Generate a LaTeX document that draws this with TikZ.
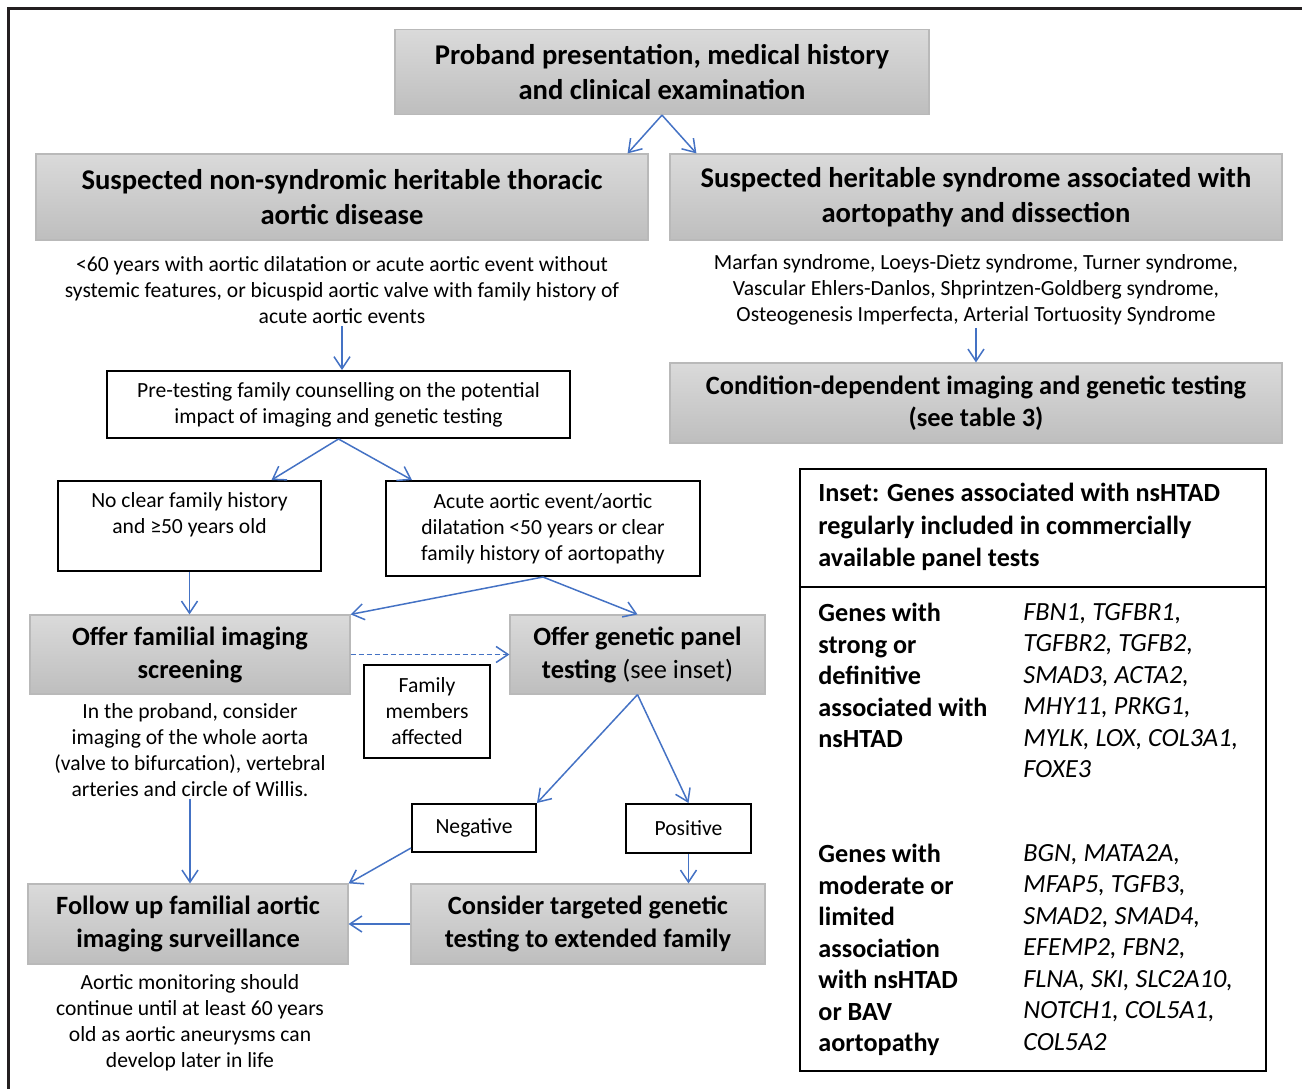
\documentclass[tikz,border=0pt]{standalone}
\usepackage{fontspec}
\setmainfont{Carlito}
\usetikzlibrary{arrows.meta}
\definecolor{arrowblue}{RGB}{68,114,196}
\definecolor{boxtop}{RGB}{218,218,218}
\definecolor{boxbottom}{RGB}{190,190,190}
\definecolor{boxline}{RGB}{185,185,185}
\definecolor{framegray}{RGB}{35,31,32}

\begin{document}
\begin{tikzpicture}[x=0.5pt,y=-0.5pt]
\tikzset{graybox/.style = {rectangle, draw=boxline, line width=.6pt, top color=boxtop, bottom color=boxbottom, align=center, inner sep=2pt, font={\fontsize{13.2}{16.5}\selectfont\bfseries}}}
\tikzset{bigfont/.style = {font={\fontsize{14.3}{17.5}\selectfont\bfseries}}}
\tikzset{plainbox/.style = {rectangle, draw=black, line width=1pt, fill=white, align=center, inner sep=2pt, font={\fontsize{10.8}{13}\selectfont}}}
\tikzset{note/.style = {align=center, inner sep=1pt, font={\fontsize{10.8}{13}\selectfont}}}
\tikzset{genes/.style = {anchor=north west, align=left, inner sep=0pt}}
\tikzset{edge/.style = {-{Straight Barb[length=6pt,width=8pt]}, color=arrowblue, line width=.75pt}}

\useasboundingbox (0,0) rectangle (1302,1088);
\draw[framegray, line width=1.5pt] (8.5,1100) -- (8.5,8.5) -- (1310,8.5);

% top of the chart
\node[graybox, bigfont, minimum width=267pt, minimum height=42.5pt] (proband) at (662,72) {Proband presentation, medical history\\and clinical examination};
\node[graybox, bigfont, minimum width=306pt, minimum height=43pt] (nonsyn) at (342,197) {Suspected non-syndromic heritable thoracic\\aortic disease};
\node[graybox, bigfont, minimum width=306pt, minimum height=43pt] (syn) at (976,197) {Suspected heritable syndrome associated with\\aortopathy and dissection};

\node[note] (nonsyntext) at (342,290) {<60 years with aortic dilatation or acute aortic event without\\systemic features, or bicuspid aortic valve with family history of\\acute aortic events};
\node[note] (syntext) at (976,290) {Marfan syndrome, Loeys-Dietz syndrome, Turner syndrome,\\Vascular Ehlers-Danlos, Shprintzen-Goldberg syndrome,\\Osteogenesis Imperfecta, Arterial Tortuosity Syndrome};
\node[graybox, minimum width=306pt, minimum height=40pt, font={\fontsize{13.2}{16}\selectfont\bfseries}] (cond) at (976,403) {Condition-dependent imaging and genetic testing\\(see table 3)};

% left branch
\node[plainbox, minimum width=231.5pt, minimum height=33.5pt] (counsel) at (338.5,404.5) {Pre-testing family counselling on the potential\\impact of imaging and genetic testing};
\node[plainbox, minimum width=131.5pt, minimum height=45pt] (nofam) at (189.5,526) {No clear family history\\and ≥50 years old\\\mbox{}};
\node[plainbox, minimum width=157pt, minimum height=47.5pt] (acute) at (543,528.5) {Acute aortic event/aortic\\dilatation <50 years or clear\\family history of aortopathy};
\node[graybox, minimum width=160pt, minimum height=39.5pt] (imaging) at (190,654.5) {Offer familial imaging\\screening};
\node[graybox, minimum width=127.5pt, minimum height=39.5pt] (panel) at (637.5,654.5) {Offer genetic panel\\testing {\mdseries(see inset)}};
\node[plainbox, minimum width=63pt, minimum height=46.5pt] (affected) at (427,711.5) {Family\\members\\affected};
\node[note] (imgtext) at (190,750) {In the proband, consider\\imaging of the whole aorta\\(valve to bifurcation), vertebral\\arteries and circle of Willis.};
\node[plainbox, minimum width=62pt, minimum height=24pt] (negative) at (474,828) {Negative};
\node[plainbox, minimum width=62.5pt, minimum height=24.5pt] (positive) at (688.5,828.5) {Positive};
\node[graybox, minimum width=160pt, minimum height=40pt] (follow) at (188,924) {Follow up familial aortic\\imaging surveillance};
\node[graybox, minimum width=177pt, minimum height=40pt] (target) at (588,924) {Consider targeted genetic\\testing to extended family};
\node[note] (followtext) at (190,1023) {Aortic monitoring should\\continue until at least 60 years\\old as aortic aneurysms can\\develop later in life};

% inset
\node[draw=black, line width=1.25pt, minimum width=233pt, minimum height=301pt, inner sep=0pt] (inset) at (1033,770) {};
\coordinate (divide) at (0,587);
\draw[black, line width=1pt] (inset.west |- divide) -- (inset.east |- divide);
\node[genes, font={\fontsize{13.1}{16.25}\selectfont\bfseries}] (insettitle) at (818,483) {Inset: Genes associated with nsHTAD\\regularly included in commercially\\available panel tests};
\node[genes, font={\fontsize{13.1}{15.75}\selectfont\bfseries}] (stronglabel) at (818,603) {Genes with\\strong or\\definitive\\associated with\\nsHTAD};
\node[genes, font={\fontsize{13.1}{15.75}\selectfont\itshape}] (stronggenes) at (1023,603) {FBN1, TGFBR1,\\TGFBR2, TGFB2,\\SMAD3, ACTA2,\\MHY11, PRKG1,\\MYLK, LOX, COL3A1,\\FOXE3};
\node[genes, font={\fontsize{13.1}{15.75}\selectfont\bfseries}] (modlabel) at (818,844) {Genes with\\moderate or\\limited\\association\\with nsHTAD\\or BAV\\aortopathy};
\node[genes, font={\fontsize{13.1}{15.75}\selectfont\itshape}] (modgenes) at (1023,844) {BGN, MATA2A,\\MFAP5, TGFB3,\\SMAD2, SMAD4,\\EFEMP2, FBN2,\\FLNA, SKI, SLC2A10,\\NOTCH1, COL5A1,\\COL5A2};

% connectors
\draw[edge] (proband.south) -- ([xshift=-10.5pt]nonsyn.north east);
\draw[edge] (proband.south) -- ([xshift=13.5pt]syn.north west);
\draw[edge] (nonsyntext.south) -- (nonsyntext.south |- counsel.north);
\draw[edge] (syntext.south) -- (syntext.south |- cond.north);
\draw[edge] (counsel.south) -- ([xshift=41pt]nofam.north);
\draw[edge] (counsel.south) -- ([xshift=13.5pt]acute.north west);
\draw[edge] (nofam.south) -- (nofam.south |- imaging.north);
\draw[edge] (acute.south) -- (imaging.north east);
\draw[edge] (acute.south) -- (panel.north);
\draw[edge, dash pattern=on 2.5pt off 1.5pt] (imaging.east) -- (panel.west);
\draw[edge] (panel.south) -- (negative.north east);
\draw[edge] (panel.south) -- (positive.north);
\draw[edge] (imgtext.south) -- (imgtext.south |- follow.north);
\draw[edge] ([yshift=2.5pt]negative.south west) -- (follow.north east);
\draw[edge] (positive.south) -- (positive.south |- target.north);
\draw[edge] (target.west) -- (follow.east);

\end{tikzpicture}
\end{document}
